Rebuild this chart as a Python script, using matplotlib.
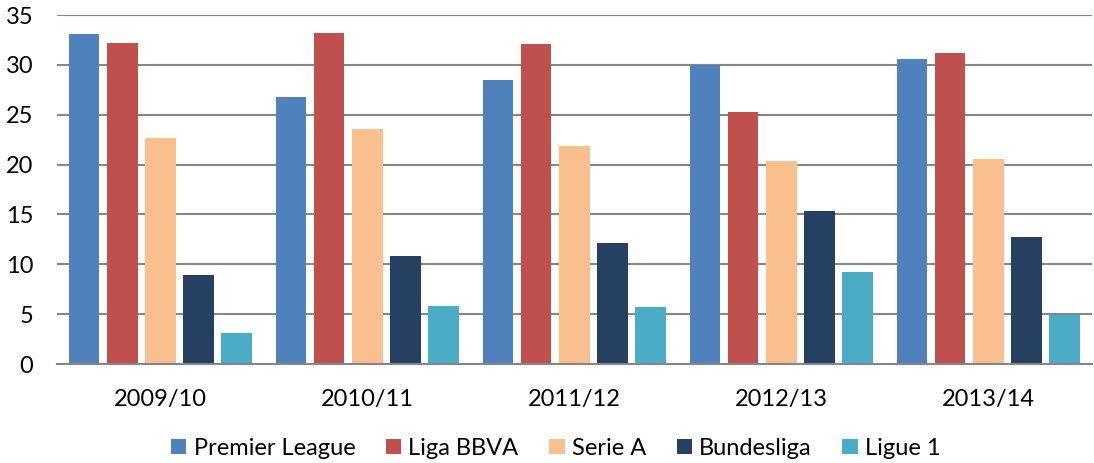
import matplotlib.pyplot as plt
import numpy as np

seasons = ['2009/10', '2010/11', '2011/12', '2012/13', '2013/14']
leagues = ['Premier League', 'Liga BBVA', 'Serie A', 'Bundesliga', 'Ligue 1']
premier = [33.1, 26.8, 28.5, 30.0, 30.6]
liga = [32.2, 33.2, 32.1, 25.3, 31.2]
serie_a = [22.7, 23.6, 21.9, 20.4, 20.6]
bundesliga = [8.9, 10.8, 12.1, 15.3, 12.7]
ligue1 = [3.1, 5.8, 5.7, 9.2, 4.9]
colors = ['#4F81BD', '#C0504D', '#F9BF8F', '#254061', '#4BACC6']

plt.rcParams['font.family'] = ['Lato', 'DejaVu Sans']

fig = plt.figure(figsize=(10.94, 4.63), dpi=100)
ax = fig.add_axes([0.052, 0.2138, 0.946, 0.7538])

x = np.arange(len(seasons))
step = 0.184
width = 0.147
series = [premier, liga, serie_a, bundesliga, ligue1]
for i, (vals, name, c) in enumerate(zip(series, leagues, colors)):
    ax.bar(x + (i - 2) * step, vals, width, color=c, label=name, zorder=3)

ax.set_xlim(-0.5, 4.5)
ax.set_ylim(0, 35)
ax.set_yticks(range(0, 36, 5))
ax.yaxis.grid(True, color='#868686', linewidth=1.5, zorder=0)
ax.set_xticks(x)
ax.set_xticklabels(seasons)
ax.tick_params(length=0, labelsize=17)
ax.tick_params(axis='x', pad=18)
ax.tick_params(axis='y', pad=17)
for s in ['top', 'right', 'left']:
    ax.spines[s].set_visible(False)
ax.spines['bottom'].set_color('#868686')
ax.spines['bottom'].set_linewidth(1.5)
ax.spines['bottom'].set_zorder(4)

# legend below, placed in figure coords
fig.legend(loc='center', bbox_to_anchor=(0.508, 0.032), ncol=5, frameon=False,
           fontsize=17, handlelength=0.65, handleheight=0.65, handletextpad=0.3,
           columnspacing=1.3)

fig.savefig('out.png', dpi=100)
